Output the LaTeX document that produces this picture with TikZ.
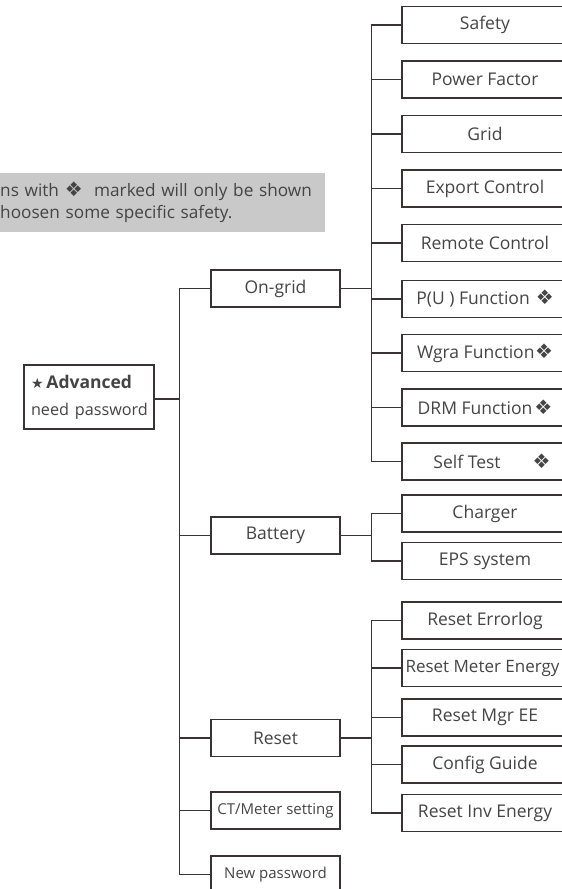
\documentclass[tikz,border=0pt]{standalone}
\usepackage{fontspec}
\setmainfont{Open Sans}
\newfontfamily\symfont{DejaVu Sans}

\definecolor{lncol}{HTML}{3B3333}
\definecolor{txtcol}{HTML}{444444}
\definecolor{notegray}{HTML}{C9C9CA}

\newcommand{\dmd}{{\symfont\fontsize{20}{20}\selectfont ❖}}

\begin{document}
\begin{tikzpicture}[x=1pt,y=-1pt,
  line/.style={line width=1.2pt,draw=lncol},
  leaf/.style={draw=lncol,line width=1.3pt,minimum width=166pt,minimum height=37pt,
    inner sep=0pt,text=txtcol,font=\fontsize{17.5}{21}\selectfont},
  menu/.style={leaf,minimum width=129pt},
  small/.style={font=\fontsize{15}{18}\selectfont},
  root/.style={draw=lncol,line width=1.3pt,minimum width=130pt,minimum height=64pt,
    text width=122pt,inner xsep=4pt,inner ysep=0pt,align=left,text=txtcol,
    font=\fontsize{17.5}{27}\selectfont},
  note/.style={fill=notegray,minimum width=325pt,minimum height=59pt,inner xsep=0pt,
    text width=325pt,align=left,text=txtcol,font=\fontsize{17.2}{22}\selectfont},
]

%% Layout parameters
\def\rX{485}     % centre of right column
\def\mX{275.5}   % centre of middle column

\clip (0,0) rectangle (562,889);

%% ---- note ----
\node[note,anchor=north west] (nt) at (0,173)
  {ns with \dmd\ \ marked will only be shown\\hoosen some specific safety.};

%% ---- root ----
\node[root] (adv) at (89,397)
  {\hspace*{3pt}{\symfont\fontsize{14}{14}\selectfont ★}\,\textbf{Advanced}\\
   \hspace*{3pt}\mbox{\fontsize{16.2}{16}\selectfont need password}};

%% ---- middle column ----
\node[menu] (og)  at (\mX,288.5) {On-grid};
\node[menu] (bat) at (\mX,535.5) {Battery};
\node[menu] (rst) at (\mX,738)   {Reset};
\node[menu,small] (ct) at (\mX,810.5) {CT/Meter setting};
\node[menu,small] (np) at (\mX,874.5) {New password};

%% ---- On-grid items ----
\node[leaf] (sf) at (\rX,25)    {Safety};
\node[leaf] (pf) at (\rX,79.5)  {Power Factor};
\node[leaf] (gd) at (\rX,134)   {Grid};
\node[leaf] (ec) at (\rX,188.5) {Export Control};
\node[leaf] (rc) at (\rX,243)   {Remote Control};
\node[leaf] (pu) at (\rX,299)   {P(U ) Function\hspace{6pt}\dmd};
\node[leaf] (wg) at (\rX,353)   {Wgra Function\hspace{0.5pt}\dmd};
\node[leaf] (dr) at (\rX,407.5) {DRM Function\hspace{2pt}\dmd};
\node[leaf] (st) at (\rX,461.5) {\hspace*{14pt}Self Test\hspace{32pt}\dmd};

%% ---- Battery items ----
\node[leaf] (chg) at (\rX,513.5) {Charger};
\node[leaf] (eps) at (\rX,561)   {EPS system};

%% ---- Reset items ----
\node[leaf] (rel) at (\rX,620.5) {Reset Errorlog};
\node[leaf,font=\fontsize{17}{21}\selectfont] (rme) at (\rX,668)
  {Reset Meter Energy\hspace*{5pt}};
\node[leaf] (rmg) at (\rX,717.5) {Reset Mgr EE};
\node[leaf] (cfg) at (\rX,764.5) {Config Guide};
\node[leaf] (rie) at (\rX,813)   {Reset Inv Energy};

%% ================================================================
%%  connectors
%% ================================================================
\coordinate (mtop) at ([xshift=-31pt]og.west);
\coordinate (mbot) at ([xshift=-31pt]np.west);
\draw[line] (mtop) -- (mbot);
\draw[line] ([yshift=-2pt]adv.east) -- ([yshift=-2pt]adv.east -| mtop);
\foreach \n in {og,bat,rst,ct,np}
  \draw[line] (\n.west -| mtop) -- (\n.west);

%% On-grid
\coordinate (otop) at ([xshift=-30pt]sf.west);
\coordinate (obot) at ([xshift=-30pt]st.west);
\draw[line] (otop) -- (obot);
\draw[line] (og.east) -- (og.east -| otop);
\foreach \n in {sf,pf,gd,ec,rc,pu,wg,dr,st}
  \draw[line] (\n.west -| otop) -- (\n.west);

%% Battery
\coordinate (btop) at ([xshift=-30pt]chg.west);
\coordinate (bbot) at ([xshift=-30pt]eps.west);
\draw[line] (btop) -- (bbot);
\draw[line] (bat.east) -- (bat.east -| btop);
\foreach \n in {chg,eps}
  \draw[line] (\n.west -| btop) -- (\n.west);

%% Reset
\coordinate (rtop) at ([xshift=-30pt]rel.west);
\coordinate (rbot) at ([xshift=-30pt]rie.west);
\draw[line] (rtop) -- (rbot);
\draw[line] (rst.east) -- (rst.east -| rtop);
\foreach \n in {rel,rme,rmg,cfg,rie}
  \draw[line] (\n.west -| rtop) -- (\n.west);

\end{tikzpicture}
\end{document}
